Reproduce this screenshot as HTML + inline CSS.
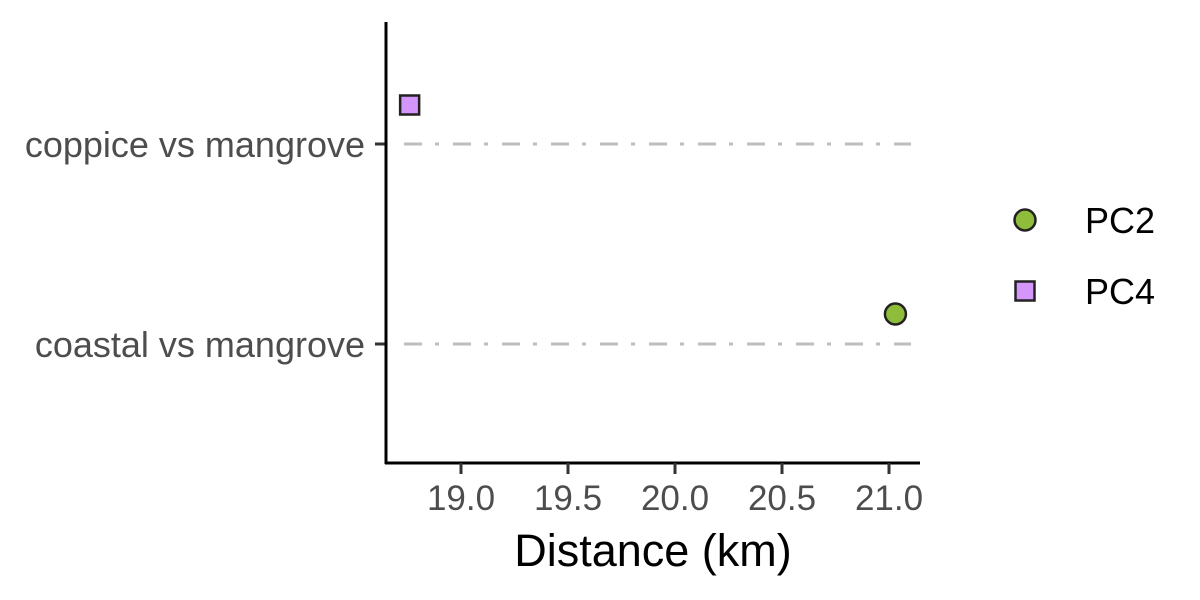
<!DOCTYPE html>
<html><head><meta charset="utf-8"><style>
body{margin:0;background:#fff;}
svg{display:block;font-family:"Liberation Sans",sans-serif;}
</style></head><body>
<svg id="chart" width="1200" height="600"></svg>
<script>
const categories = ["coppice vs mangrove", "coastal vs mangrove"];
const seriesNames = ["PC2", "PC4"];
const pc2Values = [null, 21.03];
const pc4Values = [18.76, null];
const xTicks = [19.0, 19.5, 20.0, 20.5, 21.0];
const xTickLabels = ["19.0", "19.5", "20.0", "20.5", "21.0"];

const NS = "http://www.w3.org/2000/svg";
const svg = document.getElementById('chart');
function x(v){ return 461 + (v - 19.0) * 214; }
function y(i){ return 144 + i * 200; }
const dodge = {PC2: -30, PC4: -39};
function mk(tag, attrs, parent){
  const e = document.createElementNS(NS, tag);
  for (const k in attrs) e.setAttribute(k, attrs[k]);
  (parent || svg).appendChild(e);
  return e;
}
categories.forEach((c, i) => {
  const l = mk('line', {x1:404, x2:911, y1:y(i), y2:y(i), stroke:'#bebebe', 'stroke-width':3, 'stroke-dasharray':'18 13 4 14'});
  
  
  const t = mk('line', {x1:375, x2:386, y1:y(i), y2:y(i), stroke:'#333', 'stroke-width':3});
  
  
  const tx = mk('text', {x:365, y:y(i)+13, 'text-anchor':'end', 'font-size':36, fill:'#4d4d4d'});
  tx.textContent = c;
  
  
});
const ya = mk('line', {x1:386, x2:386, y1:22, y2:464, stroke:'#000', 'stroke-width':3});


const xa = mk('line', {x1:385, x2:920, y1:463, y2:463, stroke:'#000', 'stroke-width':3});


xTicks.forEach((v, i) => {
  const t = mk('line', {x1:x(v), x2:x(v), y1:463, y2:474, stroke:'#333', 'stroke-width':3});
  
  
  const tx = mk('text', {x:x(v), y:510, 'text-anchor':'middle', 'font-size':35, fill:'#4d4d4d'});
  tx.textContent = xTickLabels[i];
  
  
});
const xt = mk('text', {x:653, y:566, 'text-anchor':'middle', 'font-size':45, fill:'#000'});
xt.textContent = 'Distance (km)';


pc2Values.forEach((v, i) => {
  if (v == null) return;
  const c = mk('circle', {cx:x(v), cy:y(i)+dodge.PC2, r:10.5, fill:'#8fbc3a', stroke:'#222', 'stroke-width':2.5});
  
  
});
pc4Values.forEach((v, i) => {
  if (v == null) return;
  const r = mk('rect', {x:x(v)-9.5, y:y(i)+dodge.PC4-9.5, width:19, height:19, fill:'#d596fb', stroke:'#222', 'stroke-width':2.5});
  
  
});
const lg = mk('g', {});


const lc = mk('circle', {cx:1025, cy:220, r:10.5, fill:'#8fbc3a', stroke:'#222', 'stroke-width':2.5}, lg);


const lr = mk('rect', {x:1015.5, y:281.5, width:19, height:19, fill:'#d596fb', stroke:'#222', 'stroke-width':2.5}, lg);


[[seriesNames[0], 233], [seriesNames[1], 304]].forEach(([n, yy]) => {
  const t = mk('text', {x:1085, y:yy, 'font-size':36, fill:'#000'}, lg);
  t.textContent = n;
  
  
});
</script>
</body></html>
